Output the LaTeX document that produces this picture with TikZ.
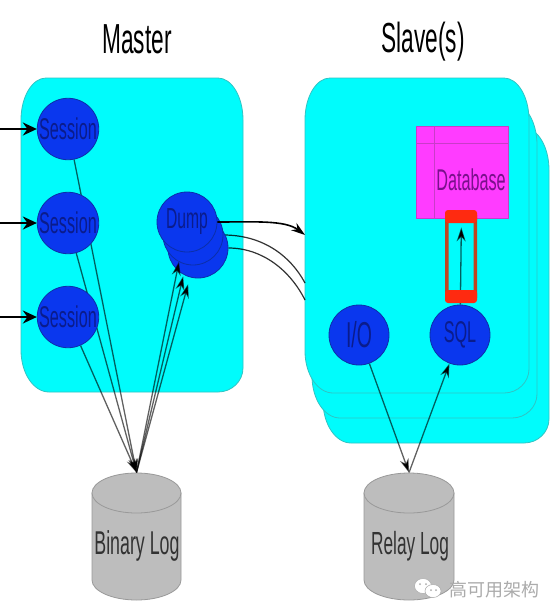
\documentclass[tikz,border=0pt]{standalone}
\usepackage{fontspec}
\usetikzlibrary{arrows.meta,shapes.geometric}
\newfontfamily\handfont[FakeStretch=0.54]{Liberation Sans}
\newfontfamily\cjkfont{Noto Sans CJK SC}
\definecolor{panelfill}{HTML}{00FCFC}
\definecolor{paneledge}{HTML}{2FC4C4}
\definecolor{circfill}{HTML}{0A37EE}
\definecolor{circedge}{HTML}{0C2FA8}
\definecolor{circtext}{HTML}{0A1C8C}
\definecolor{dbfill}{HTML}{FF3CFF}
\definecolor{dbedge}{HTML}{C83CC8}
\definecolor{dbtext}{HTML}{7A108C}
\definecolor{redbar}{HTML}{FF2A10}
\definecolor{redframe}{HTML}{C0441E}
\definecolor{cylfill}{HTML}{BDBDBD}
\definecolor{cyledge}{HTML}{999999}
\definecolor{marktext}{HTML}{ABABAB}
\pgfdeclarelayer{backlayer}
\pgfdeclarelayer{linelayer}
\pgfsetlayers{backlayer,linelayer,main}
\newcommand{\panelshape}[4]{%
  \draw[panelstyle] (#1+25,#2) -- (#3-25,#2)
    arc[start angle=90,end angle=0,x radius=25pt,y radius=42pt] -- (#3,#4-24)
    arc[start angle=0,end angle=-90,x radius=25pt,y radius=24pt] -- (#1+28,#4)
    arc[start angle=-90,end angle=-180,x radius=28pt,y radius=42pt] -- (#1,#2+42)
    arc[start angle=180,end angle=90,x radius=25pt,y radius=42pt] -- cycle;}
\tikzset{
  handtext/.style={font=\handfont\fontsize{#1}{#1}\selectfont},
  panelstyle/.style={draw=paneledge,fill=panelfill,line width=0.8pt},
  circ/.style={circle,draw=circedge,fill=circfill,line width=0.8pt,minimum size=60pt,inner sep=0pt,text=circtext,handtext=30},
  cyltop/.style={ellipse,draw=cyledge,fill=cylfill,line width=0.8pt,minimum width=89pt,minimum height=40pt,inner sep=0pt},
  cylbody/.style={draw=cyledge,fill=cylfill,line width=0.8pt},
  cyltext/.style={text=black!80,handtext=33},
  title/.style={text=black,handtext=42,anchor=base,inner sep=0pt},
  tiparrow/.style={-{Stealth[length=14pt,width=9pt,color=black]}},
  flow/.style={tiparrow,draw=black,draw opacity=0.62,line width=1.3pt},
  inflow/.style={-{Stealth[length=14pt,width=13pt,color=black]},draw=black,line width=2pt},
  curveflow/.style={draw=black,draw opacity=0.8,line width=1.2pt},
}
\begin{document}
\begin{tikzpicture}[x=1pt,y=-1pt]
\useasboundingbox (0,0) rectangle (554,616);

% panels
\begin{pgfonlayer}{backlayer}
\fill[white] (0,0) rectangle (554,616);
\panelshape{323}{128}{549}{443}
\panelshape{312}{103}{537}{418}
\panelshape{305}{78}{529}{393}
\panelshape{21}{78}{243}{392}
\end{pgfonlayer}

% titles
\node[title] (mastertitle) at (137,53) {Master};
\node[title] (slavetitle) at (423,52) {Slave(s)};

% circles
\node[circ] (s1) at (68,129) {Session};
\node[circ] (s2) at (68,223) {Session};
\node[circ] (s3) at (68,317) {Session};
\node[circ] (dumpC) at (198,248) {};
\node[circ] (dumpB) at (193,235) {};
\node[circ,handtext=29] (dumpA) at (187,222) {Dump};
\node[circ,handtext=36] (io) at (359,335) {I/O};
\node[circ] (sql) at (460,335) {SQL};

% database
\node[draw=dbedge,fill=dbfill,line width=0.8pt,minimum width=92pt,minimum height=92pt,inner sep=0pt] (db) at (462,172) {};
\draw[dbedge,line width=0.6pt] (434,126) -- (434,218) (416,143) -- (508,143);
\node[text=dbtext,handtext=30] (dbtext) at (471,180) {Database};

% red frame
\node[draw=redframe,line width=3.5pt,rounded corners=2pt,minimum width=28.5pt,minimum height=86pt,inner sep=0pt] (frame) at (461,256.5) {};
\node[fill=redbar,rounded corners=3pt,minimum width=32pt,minimum height=13pt,inner sep=0pt] (bartop) at (461,216.5) {};
\node[fill=redbar,rounded corners=3pt,minimum width=32pt,minimum height=13pt,inner sep=0pt] (barbot) at (461,296.5) {};

% cylinders
\draw[cylbody] (92,493) -- (92,580) arc[start angle=180,end angle=360,x radius=44.5pt,y radius=20pt] -- (181,493) -- cycle;
\node[cyltop] (binary) at (136.5,493) {};
\node[cyltext] (binarytext) at (137,546) {Binary Log};
\draw[cylbody] (364,493) -- (364,580) arc[start angle=180,end angle=360,x radius=45pt,y radius=20pt] -- (454,493) -- cycle;
\node[cyltop,minimum width=90pt] (relay) at (409,493) {};
\node[cyltext,handtext=32] (relaytext) at (410,546) {Relay Log};

% connectors
\coordinate (in1) at (0,129);
\coordinate (in2) at (0,223);
\coordinate (in3) at (0,317);
\coordinate (edgeA) at (305,235);
\coordinate (edgeB) at (305,283);
\coordinate (edgeC) at (305,300);

\draw[inflow] (in1) -- (s1);
\draw[inflow] (in2) -- (s2);
\draw[inflow] (in3) -- (s3);

\begin{pgfonlayer}{linelayer}
\draw[flow] (s1) -- (binary.north);
\draw[flow] (s2) -- (binary.north);
\draw[flow] (s3) -- (binary.north);
\draw[flow] (io) -- (relay.north);
\draw[flow] (relay.north) -- (sql);
\draw[flow,shorten >=9pt] (sql) -- (db);
\draw[curveflow] (dumpB.east) .. controls (262,235) and (290,255) .. (edgeB);
\draw[curveflow] (dumpC.east) .. controls (262,248) and (290,270) .. (edgeC);
\end{pgfonlayer}
\draw[flow,shorten >=10pt] (binary.north) -- (dumpA);
\draw[flow,shorten >=12pt] (binary.north) -- (dumpB);
\draw[flow,shorten >=7pt] (binary.north) -- (dumpC);
\draw[tiparrow,draw=black,line width=1.6pt] (dumpA.east) .. controls (255,222) and (285,220) .. (edgeA);

% watermark
\fill[white,draw=marktext,line width=0.5pt] (423,586) ellipse (8.5pt and 7.5pt);
\fill[white,draw=marktext,line width=0.5pt] (433,591) ellipse (8pt and 6.5pt);
\fill[marktext] (420,584) circle (1pt) (426,584) circle (1pt) (431,590) circle (1pt) (436,590) circle (1pt);
\node[text=marktext,font=\cjkfont\fontsize{18}{18}\selectfont,inner sep=0pt] (mark) at (494,590) {高可用架构};
\end{tikzpicture}
\end{document}
